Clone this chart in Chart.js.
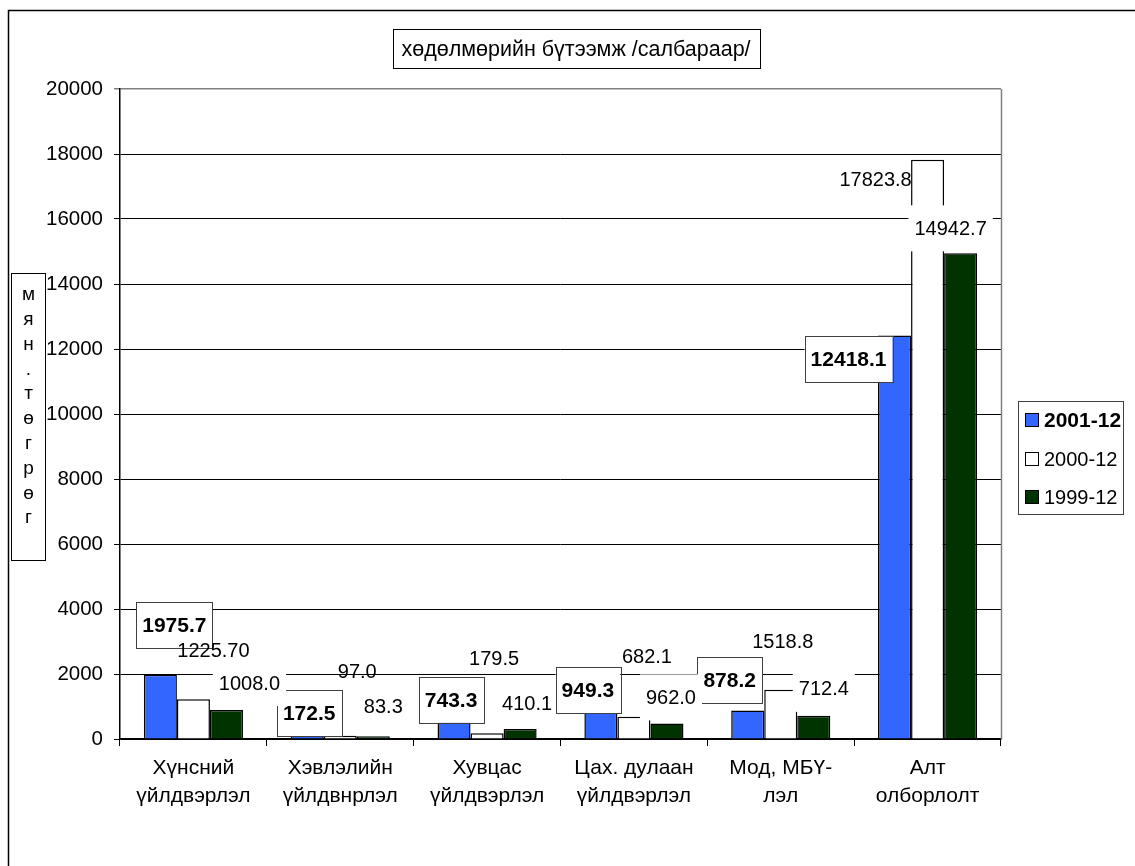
<!DOCTYPE html>
<html>
<head>
<meta charset="utf-8">
<script src="https://cdn.jsdelivr.net/npm/chart.js@4/dist/chart.umd.min.js"></script>
<style>
  html, body { margin: 0; padding: 0; background: #fff; }
  #wrap { width: 1135px; height: 866px; }
</style>
</head>
<body>
<div id="wrap"><canvas id="chart" width="1135" height="866"></canvas></div>
<script>
// Chart data
var categories = [
  ['Хүнсний', 'үйлдвэрлэл'],
  ['Хэвлэлийн', 'үйлдвнрлэл'],
  ['Хувцас', 'үйлдвэрлэл'],
  ['Цах. дулаан', 'үйлдвэрлэл'],
  ['Мод, МБҮ-', 'лэл'],
  ['Алт', 'олборлолт']
];
var seriesNames = ['2001-12', '2000-12', '1999-12'];
var values2001 = [1975.7, 172.5, 743.3, 949.3, 878.2, 12418.1];
var values2000 = [1225.7, 97.0, 179.5, 682.1, 1518.8, 17823.8];
var values1999 = [892, 83.3, 308, 480, 712.4, 14942.7];
// data label texts as printed on the chart
var labels2001 = ['1975.7', '172.5', '743.3', '949.3', '878.2', '12418.1'];
var labels2000 = ['1225.70', '97.0', '179.5', '682.1', '1518.8', '17823.8'];
var labels1999 = ['1008.0', '83.3', '410.1', '962.0', '712.4', '14942.7'];
var yTicks = [0, 2000, 4000, 6000, 8000, 10000, 12000, 14000, 16000, 18000, 20000];

var FONT = '"Liberation Sans", Arial, sans-serif';
var colors = ['#3366ff', '#ffffff', '#003300'];

// label placement relative to bar top centre: [dx, dy, whiteBox]
var labelOffsets = [
  [[14, -50], [2, -20], [-3, -15], [-13, -18], [-18, -30], [-46, 24]],
  [[20, -49], [17, -64], [7, -75], [13, -60], [2, -48], [-52, 20]],
  [[23, -27, 1], [10, -30], [7, -26], [4, -26, 1], [10, -27, 1], [-10, -25, 1]]
];
var labelTexts = [labels2001, labels2000, labels1999];

var decorPlugin = {
  id: 'decor',
  beforeDraw: function (chart) {
    var ctx = chart.ctx;
    ctx.save();
    ctx.fillStyle = '#fff';
    ctx.fillRect(0, 0, chart.width, chart.height);
    ctx.restore();
  },
  afterDatasetsDraw: function (chart) {
    var ctx = chart.ctx;
    var area = chart.chartArea;
    ctx.save();

    // plot area right border
    ctx.strokeStyle = '#808080';
    ctx.lineWidth = 1.5;
    ctx.beginPath();
    ctx.moveTo(area.right + 0.5, area.top);
    ctx.lineTo(area.right + 0.5, area.bottom);
    ctx.stroke();

    // data labels
    ctx.textBaseline = 'middle';
    ctx.textAlign = 'center';
    for (var s = 0; s < 3; s++) {
      var meta = chart.getDatasetMeta(s);
      meta.data.forEach(function (bar, i) {
        var off = labelOffsets[s][i];
        var txt = labelTexts[s][i];
        var cx = bar.x + off[0], cy = bar.y + off[1];
        ctx.font = (s === 0 ? 'bold 21px ' : '20px ') + FONT;
        var w = ctx.measureText(txt).width + 12;
        if (s === 0 || off[2]) {
          ctx.fillStyle = '#fff';
          ctx.fillRect(cx - w / 2, cy - 23, w, 46);
          if (s === 0) {
            ctx.strokeStyle = '#404040';
            ctx.lineWidth = 1;
            ctx.strokeRect(Math.round(cx - w / 2) + 0.5, Math.round(cy - 23) + 0.5, Math.round(w), 46);
          }
        }
        ctx.fillStyle = '#000';
        ctx.fillText(txt, cx, cy + 1);
      });
    }

    // title box
    ctx.fillStyle = '#fff';
    ctx.fillRect(393, 29, 367, 39);
    ctx.strokeStyle = '#000';
    ctx.lineWidth = 1;
    ctx.strokeRect(393.5, 29.5, 367, 39);
    ctx.fillStyle = '#000';
    ctx.font = '21.5px ' + FONT;
    ctx.fillText('хөдөлмөрийн бүтээмж /салбараар/', 576, 50);

    // y axis title box, letters stacked
    ctx.strokeRect(11.5, 273.5, 34, 287);
    ctx.font = '19px ' + FONT;
    'мян.төгрөг'.split('').forEach(function (ch, k) {
      ctx.fillText(ch, 28.5, 295 + k * 24.8);
    });

    // legend
    ctx.strokeStyle = '#404040';
    ctx.strokeRect(1018.5, 401.5, 105, 113);
    var rows = [420, 459, 497];
    ctx.textAlign = 'left';
    for (var r = 0; r < 3; r++) {
      ctx.fillStyle = colors[r];
      ctx.fillRect(1025, rows[r] - 7, 14, 14);
      ctx.strokeStyle = '#000';
      ctx.strokeRect(1025.5, rows[r] - 6.5, 13, 13);
      ctx.fillStyle = '#000';
      ctx.font = (r === 0 ? 'bold 21px ' : '20px ') + FONT;
      ctx.fillText(seriesNames[r], 1044, rows[r] + 1);
    }

    // outer frame (top and left edges visible)
    ctx.strokeStyle = '#000';
    ctx.lineWidth = 1.5;
    ctx.beginPath();
    ctx.moveTo(8.5, chart.height);
    ctx.lineTo(8.5, 10.5);
    ctx.lineTo(chart.width, 10.5);
    ctx.stroke();

    ctx.restore();
  }
};

var valueSets = [values2001, values2000, values1999];
new Chart(document.getElementById('chart'), {
  type: 'bar',
  data: {
    labels: categories,
    datasets: valueSets.map(function (vals, i) {
      return {
        label: seriesNames[i],
        data: vals,
        backgroundColor: colors[i],
        borderColor: '#000',
        borderWidth: 1.5,
        categoryPercentage: 0.675,
        barPercentage: 1.0
      };
    })
  },
  options: {
    responsive: false,
    animation: false,
    events: [],
    layout: { padding: { top: 89, right: 134, left: 0, bottom: 0 } },
    plugins: { legend: { display: false }, tooltip: { enabled: false }, title: { display: false } },
    scales: {
      x: {
        afterFit: function (sc) { sc.height = 127; },
        grid: { drawOnChartArea: false, drawTicks: true, tickLength: 7, color: '#000', offset: true },
        border: { display: true, color: '#000', width: 1.5 },
        ticks: {
          color: '#000', padding: 9, maxRotation: 0, autoSkip: false,
          font: { family: FONT, size: 21, lineHeight: 1.3 }
        }
      },
      y: {
        min: 0, max: 20000,
        afterFit: function (sc) { sc.width = 120; },
        afterBuildTicks: function (sc) { sc.ticks = yTicks.map(function (v) { return { value: v }; }); },
        grid: {
          color: function (c) { return c.tick && c.tick.value === 20000 ? '#808080' : '#000'; },
          lineWidth: function (c) { return c.tick && c.tick.value === 20000 ? 1.5 : 1; },
          tickLength: 6
        },
        border: { display: true, color: '#000', width: 1.5 },
        ticks: {
          color: '#000', padding: 11, font: { family: FONT, size: 20.5 },
          callback: function (v) { return String(v); }
        }
      }
    }
  },
  plugins: [decorPlugin]
});
</script>
</body>
</html>
